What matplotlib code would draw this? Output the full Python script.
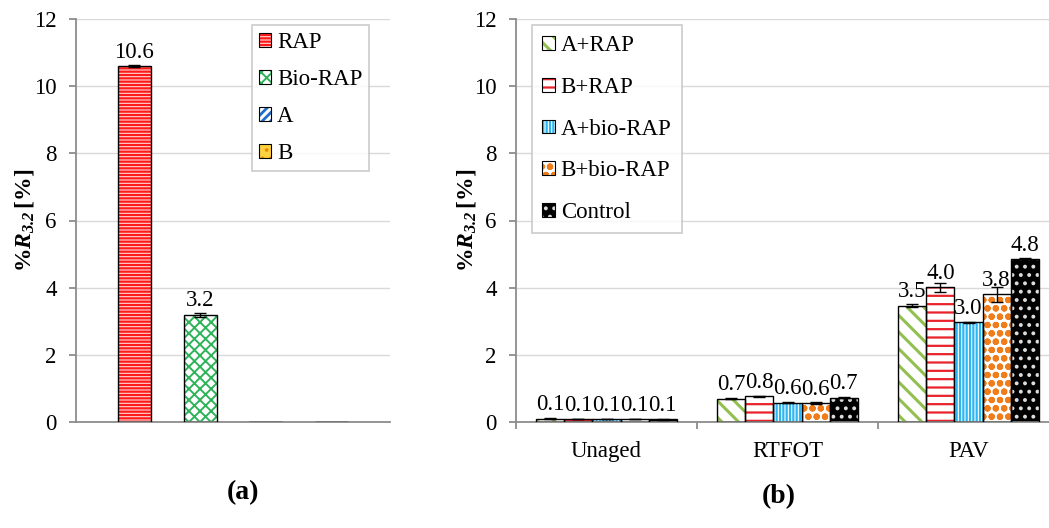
import matplotlib
matplotlib.use("Agg")
import matplotlib.pyplot as plt
import numpy as np
from matplotlib.patches import Rectangle
from matplotlib.legend_handler import HandlerBase

plt.rcParams['font.family'] = ['Liberation Serif', 'DejaVu Serif']
plt.rcParams['mathtext.fontset'] = 'custom'
plt.rcParams['mathtext.rm'] = 'Liberation Serif'
plt.rcParams['mathtext.it'] = 'Liberation Serif:italic'
plt.rcParams['mathtext.bf'] = 'Liberation Serif:bold'
if 'mathtext.bfit' in plt.rcParams:
    plt.rcParams['mathtext.bfit'] = 'Liberation Serif:italic:bold'
    YLABEL = r'$\mathbf{\%}\mathbfit{R}_{\mathbfit{3.2}}\,\mathbf{[\%]}$'
else:
    YLABEL = r'$\mathbf{\%}\boldsymbol{R}_{\boldsymbol{3.2}}\,\mathbf{[\%]}$'

# ---------------- data ----------------
a_series = ['RAP', 'Bio-RAP', 'A', 'B']
a_values = [10.6, 3.2, 0.0, 0.0]
a_errors = [0.03, 0.06, 0.0, 0.0]
a_labels = ['10.6', '3.2', '', '']

b_categories = ['Unaged', 'RTFOT', 'PAV']
b_series = ['A+RAP', 'B+RAP', 'A+bio-RAP', 'B+bio-RAP', 'Control']
b_AplusRAP = [0.10, 0.69, 3.46]
b_BplusRAP = [0.09, 0.76, 4.01]
b_AplusBio = [0.09, 0.58, 2.97]
b_BplusBio = [0.09, 0.56, 3.80]
b_Control = [0.08, 0.72, 4.84]
b_err_AplusRAP = [0.01, 0.01, 0.05]
b_err_BplusRAP = [0.01, 0.02, 0.13]
b_err_AplusBio = [0.01, 0.01, 0.02]
b_err_BplusBio = [0.01, 0.03, 0.22]
b_err_Control = [0.01, 0.02, 0.05]

# styles: (facecolor, hatchcolor, hatch, hatch linewidth)
a_styles = [
    ('#ffd6d6', '#ff1a1a', '-----', 1.6),
    ('#ffffff', '#2fb35a', 'xxx', 1.4),
    ('#ffffff', '#1f6fc8', '////', 2.0),
    ('#ffd23f', '#f08c00', '..', 1.5),
]
b_styles = [
    ('#ffffff', '#92c050', '\\\\', 2.2),
    ('#ffffff', '#e8232b', '--', 1.6),
    ('#2eb6f0', '#ffffff', '|||||', 0.8),
    ('#ffffff', '#f07d1a', 'oo', 2.2),
    ('#000000', '#dddddd', '..', 1.6),
]

W, H = 1049, 528
fig = plt.figure(figsize=(W / 100, H / 100), dpi=100)

FS = 16.5
GRID = '#d9d9d9'
SPINE = '#8c8c8c'


class StyleHandle:
    def __init__(self, style):
        self.style = style


class HandlerStyle(HandlerBase):
    def create_artists(self, legend, orig_handle, xdescent, ydescent, width, height,
                       fontsize, trans):
        fc, hc, hatch, hlw = orig_handle.style
        with plt.rc_context({'hatch.linewidth': hlw, 'hatch.color': hc}):
            r1 = Rectangle((-xdescent, -ydescent), width, height, facecolor=fc,
                           edgecolor=hc, hatch=hatch, linewidth=0, transform=trans)
        if hasattr(r1, 'set_hatch_linewidth'):
            r1.set_hatch_linewidth(hlw)
        r2 = Rectangle((-xdescent, -ydescent), width, height, facecolor='none',
                       edgecolor='black', linewidth=0.8, transform=trans)
        return [r1, r2]


def px_axes(x0, x1, y_bottom, y_top):
    return fig.add_axes([x0 / W, (H - y_bottom) / H, (x1 - x0) / W, (y_bottom - y_top) / H])


def hatched_bar(ax, x, h, w, style, err=None):
    fc, hc, hatch, hlw = style
    with plt.rc_context({'hatch.linewidth': hlw, 'hatch.color': hc}):
        b1 = ax.bar(x, h, w, color=fc, edgecolor=hc, hatch=hatch, linewidth=0, zorder=2)
    for p in b1:
        if hasattr(p, 'set_hatch_linewidth'):
            p.set_hatch_linewidth(hlw)
    ax.bar(x, h, w, facecolor='none', edgecolor='black', linewidth=1.0, zorder=3)
    if err is not None:
        ax.errorbar(x, h, yerr=err, fmt='none', ecolor='black', elinewidth=1.0,
                    capsize=4, capthick=1.0, zorder=4)


def style_axes(ax):
    ax.set_ylim(0, 12)
    ax.set_yticks(np.arange(0, 13, 2))
    ax.yaxis.grid(True, color=GRID, linewidth=1.0, zorder=0)
    ax.set_axisbelow(True)
    for s in ['top', 'right']:
        ax.spines[s].set_visible(False)
    ax.spines['left'].set_color(SPINE)
    ax.spines['bottom'].set_color(SPINE)
    ax.spines['left'].set_linewidth(1.3)
    ax.spines['bottom'].set_linewidth(1.3)
    ax.tick_params(axis='y', direction='out', length=5, width=1.3, color=SPINE,
                   labelsize=FS, pad=9)


# ---------------- panel (a) ----------------
axa = px_axes(76, 390, 422, 19)
style_axes(axa)
axa.set_xlim(0, 1)
bw_a = 0.105
for i, (name, v, e, lab, st) in enumerate(zip(a_series, a_values, a_errors, a_labels, a_styles)):
    x = 0.5 + (i - 1.5) * 2 * bw_a
    hatched_bar(axa, [x], [v], bw_a, st, err=[e] if e > 0 else None)
    if lab:
        axa.annotate(lab, (x, v), xytext=(0, 6), textcoords='offset points',
                     ha='center', va='baseline', fontsize=FS)
axa.set_xticks([])
axa.tick_params(axis='x', length=0)

leg_a = fig.legend([StyleHandle(s) for s in a_styles], a_series, loc='upper left',
                   bbox_to_anchor=(252 / W, 1 - 25 / H), borderaxespad=0,
                   fontsize=FS, handlelength=0.55, handleheight=0.55, handletextpad=0.25,
                   labelspacing=0.7, borderpad=0.3, frameon=True, fancybox=False,
                   handler_map={StyleHandle: HandlerStyle()})
leg_a.get_frame().set_edgecolor('#bfbfbf')
leg_a.get_frame().set_linewidth(1.2)

# ---------------- panel (b) ----------------
axb = px_axes(516, 1059, 422, 19)
style_axes(axb)
axb.set_xlim(0, 3)
bw_b = 0.155
b_values = [b_AplusRAP, b_BplusRAP, b_AplusBio, b_BplusBio, b_Control]
b_errors = [b_err_AplusRAP, b_err_BplusRAP, b_err_AplusBio, b_err_BplusBio, b_err_Control]
centers = np.arange(len(b_categories)) + 0.5
for i, (name, vals, errs, st) in enumerate(zip(b_series, b_values, b_errors, b_styles)):
    xs = centers + (i - 2) * bw_b
    hatched_bar(axb, xs, vals, bw_b, st, err=errs)
    for x, v in zip(xs, vals):
        axb.annotate(f'{v:.1f}', (x, v), xytext=(0, 6), textcoords='offset points',
                     ha='center', va='baseline', fontsize=FS)
axb.set_xticks(centers)
axb.set_xticklabels(b_categories)
axb.set_xticks(np.arange(0, len(b_categories) + 1), minor=True)
axb.tick_params(axis='x', which='major', length=0, labelsize=FS, pad=14)
axb.tick_params(axis='x', which='minor', length=5, width=1.3, color=SPINE, direction='out')

leg_b = fig.legend([StyleHandle(s) for s in b_styles], b_series, loc='upper left',
                   bbox_to_anchor=(532 / W, 1 - 25 / H), borderaxespad=0,
                   fontsize=FS, handlelength=0.55, handleheight=0.55, handletextpad=0.25,
                   labelspacing=0.9, borderpad=0.45, frameon=True, fancybox=False,
                   handler_map={StyleHandle: HandlerStyle()})
leg_b.get_frame().set_edgecolor('#bfbfbf')
leg_b.get_frame().set_linewidth(1.2)

# ---------------- labels ----------------
fig.text(25 / W, 1 - 220 / H, YLABEL, rotation=90, ha='center', va='center', fontsize=17)
fig.text(467 / W, 1 - 220 / H, YLABEL, rotation=90, ha='center', va='center', fontsize=17)
fig.text(243 / W, 1 - 493 / H, '(a)', ha='center', va='center', fontsize=20, fontweight='bold')
fig.text(779 / W, 1 - 497 / H, '(b)', ha='center', va='center', fontsize=20, fontweight='bold')

fig.savefig('out.png', dpi=100)
